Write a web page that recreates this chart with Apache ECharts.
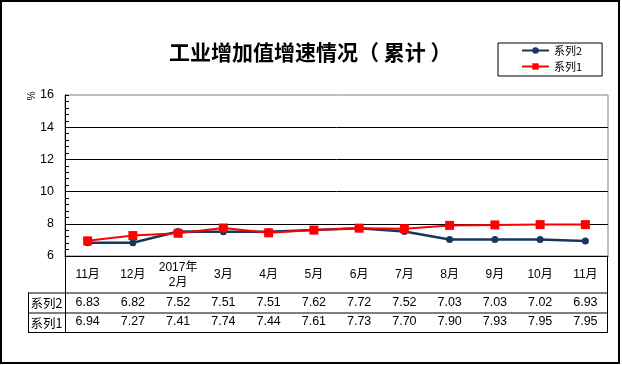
<!DOCTYPE html>
<html><head><meta charset="utf-8">
<script src="https://cdn.jsdelivr.net/npm/echarts@6/dist/echarts.min.js"></script>
<style>html,body{margin:0;padding:0;background:#fff}#c{width:622px;height:365px}</style>
</head><body><div id="c"></div>
<script>
const categories = ['11月','12月','2017年\n2月','3月','4月','5月','6月','7月','8月','9月','10月','11月'];
const series2 = [6.83,6.82,7.52,7.51,7.51,7.62,7.72,7.52,7.03,7.03,7.02,6.93];
const series1 = [6.94,7.27,7.41,7.74,7.44,7.61,7.73,7.70,7.90,7.93,7.95,7.95];
const yTicks = [6,8,10,12,14,16];

const FONT = 'Liberation Sans, Arial, Noto Sans CJK SC, sans-serif';
const G = {left:65, right:608, top:95, bottom:256};
const rows = {catBottom:292.5, r2Bottom:312.5, r1Bottom:332, tableLeft:28, tableRight:607};

const chart = echarts.init(document.getElementById('c'), null, {renderer:'canvas'});
const black = '#000';
function line(x1,y1,x2,y2,color,w){return {type:'line',shape:{x1,y1,x2,y2},style:{stroke:color||black,lineWidth:w||1},z:10};}

chart.setOption({
  animation:false,
  backgroundColor:'#fff',
  title:{text:'工业增加值增速情况（ 累计 ）',left:164,top:37,textStyle:{fontFamily:'Noto Sans CJK SC',fontSize:21,fontWeight:'bold',color:'#000'}},
  legend:{
    data:['系列2','系列1'],orient:'vertical',left:498,top:43,
    padding:[2,20,4,23],itemGap:5,itemWidth:27,itemHeight:8,
    borderColor:'#000',borderWidth:1,
    textStyle:{fontFamily:'Noto Sans CJK SC',fontSize:11,color:'#000'}
  },
  grid:{left:G.left,top:G.top,width:G.right-G.left,height:G.bottom-G.top,show:true,borderColor:'#808080',borderWidth:1,containLabel:false},
  xAxis:[
    {type:'category',data:categories,boundaryGap:true,
     axisLine:{show:true,lineStyle:{color:'#000',width:1}},axisTick:{show:false},
     axisLabel:{interval:0,margin:19,verticalAlign:'middle',fontFamily:FONT,fontSize:12,color:'#000',lineHeight:15}},
    {type:'category',data:categories,position:'bottom',offset:46.5,
     axisLine:{show:false},axisTick:{show:false},
     axisLabel:{interval:0,margin:0,verticalAlign:'middle',fontFamily:FONT,fontSize:12.5,color:'#000',
       formatter:(v,i)=>series2[i].toFixed(2)}},
    {type:'category',data:categories,position:'bottom',offset:66,
     axisLine:{show:false},axisTick:{show:false},
     axisLabel:{interval:0,margin:0,verticalAlign:'middle',fontFamily:FONT,fontSize:12.5,color:'#000',
       formatter:(v,i)=>series1[i].toFixed(2)}}
  ],
  yAxis:{type:'value',min:yTicks[0],max:yTicks[yTicks.length-1],interval:2,
    axisLine:{show:true,lineStyle:{color:'#000'}},
    axisTick:{show:true,inside:true,length:4,lineStyle:{color:'#000'}},
    minorTick:{show:true,splitNumber:5,length:4,lineStyle:{color:'#000'}},
    splitLine:{show:true,showMaxLine:false,lineStyle:{color:'#000',width:1}},
    axisLabel:{margin:11,fontFamily:FONT,fontSize:12.5,color:'#000'}},
  series:[
    {name:'系列2',type:'line',data:series2,symbol:'circle',symbolSize:7,
     lineStyle:{color:'#17375E',width:2.5},itemStyle:{color:'#17375E'},z:2},
    {name:'系列1',type:'line',data:series1,symbol:'rect',symbolSize:9,
     lineStyle:{color:'#FF0000',width:2},itemStyle:{color:'#FF0000'},z:3}
  ],
  graphic:[
    {type:'rect',shape:{x:1,y:1,width:618,height:362},style:{fill:null,stroke:'#000',lineWidth:2},z:10},
    {type:'text',x:30,y:96,rotation:-Math.PI/2,style:{text:'%',font:'10px '+FONT,fill:'#000',align:'center',verticalAlign:'middle'},z:10},
    line(G.left+0.5,G.bottom,G.left+0.5,rows.r1Bottom),
    line(rows.tableRight+0.5,G.bottom,rows.tableRight+0.5,rows.r1Bottom),
    line(rows.tableLeft+0.5,rows.catBottom,rows.tableLeft+0.5,rows.r1Bottom),
    line(rows.tableLeft,rows.catBottom+0.5,rows.tableRight+1,rows.catBottom+0.5),
    line(rows.tableLeft,rows.r2Bottom+0.5,rows.tableRight+1,rows.r2Bottom+0.5),
    line(rows.tableLeft,rows.r1Bottom+0.5,rows.tableRight+1,rows.r1Bottom+0.5),
    {type:'text',x:(rows.tableLeft+G.left)/2,y:(rows.catBottom+rows.r2Bottom)/2+1,style:{text:'系列2',font:'12.5px Noto Sans CJK SC',fill:'#000',align:'center',verticalAlign:'middle'},z:10},
    {type:'text',x:(rows.tableLeft+G.left)/2,y:(rows.r2Bottom+rows.r1Bottom)/2+1,style:{text:'系列1',font:'12.5px Noto Sans CJK SC',fill:'#000',align:'center',verticalAlign:'middle'},z:10}
  ]
});
</script></body></html>
